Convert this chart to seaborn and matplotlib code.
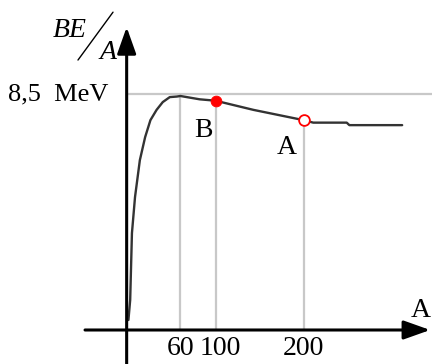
import matplotlib
matplotlib.use("Agg")
import matplotlib.pyplot as plt
import seaborn as sns
import pandas as pd

# ---- data ----
mass_number = [1, 3, 5, 8.5, 14, 20, 26, 33, 40, 48, 56, 60, 82, 100, 143, 200, 211, 249, 252, 312]
be_per_a = [0.36, 1.08, 3.49, 4.79, 6.12, 6.95, 7.56, 7.93, 8.21, 8.39, 8.41, 8.43, 8.31, 8.26, 7.93, 7.56, 7.47, 7.47, 7.38, 7.38]
ref_level = 8.5
ref_label = "8,5  MeV"
tick_values = [60, 100, 200]
tick_labels = ["60", "100", "200"]
point_names = ["B", "A"]
point_x = [100, 200]
point_y = [8.26, 7.56]

df = pd.DataFrame({"A": mass_number, "BE": be_per_a})

sns.set_theme(style="white")
plt.rcParams["font.family"] = ["Liberation Serif", "DejaVu Serif"]
plt.rcParams["text.color"] = "black"

fig = plt.figure(figsize=(4.32, 3.64), dpi=100)
ax = fig.add_axes([0, 0, 1, 1])
ax.set_xlim(-144.9, 345.9)
ax.set_ylim(-1.225, 11.888)
ax.axis("off")

grey = "#c8c8c8"
# guide lines
ax.plot([0, 345.9], [ref_level, ref_level], color=grey, lw=1.6, zorder=1)
ax.plot([tick_values[0], tick_values[0]], [0, ref_level], color=grey, lw=1.6, zorder=1)
for xv, yv in zip(point_x, point_y):
    ax.plot([xv, xv], [0, yv], color=grey, lw=1.6, zorder=1)

# curve
sns.lineplot(data=df, x="A", y="BE", ax=ax, color="#333333", lw=1.7,
             sort=False, estimator=None, zorder=3)

# points
sns.scatterplot(x=[point_x[0]], y=[point_y[0]], ax=ax, color="red", s=60,
                edgecolor="red", zorder=5)
ax.scatter([point_x[1]], [point_y[1]], s=60, facecolor="white",
           edgecolor="red", linewidth=1.3, zorder=5)

# axes arrows
arrow_kw = dict(arrowstyle="-|>,head_length=0.9,head_width=0.32", lw=2.2,
                color="black", shrinkA=0, shrinkB=0, mutation_scale=18)
ax.annotate("", xy=(343.8, 0), xytext=(-48.3, 0), arrowprops=arrow_kw, zorder=6)
ax.annotate("", xy=(-1, 10.91), xytext=(-1, -1.225), arrowprops=arrow_kw, zorder=6)

fs = 20
# tick labels
for tv, tl in zip(tick_values, tick_labels):
    off = 5 if tl == "100" else 0
    ax.text(tv + off, -0.66, tl, ha="center", va="center", fontsize=fs)

# point labels
ax.text(86, 7.2, point_names[0], ha="center", va="center", fontsize=fs)
ax.text(181, 6.59, point_names[1], ha="center", va="center", fontsize=fs)

# y reference label
ax.text(-22, 8.47, ref_label, ha="right", va="center", fontsize=19)

# x axis label
ax.text(344.5, 0.72, "A", ha="right", va="center", fontsize=fs)

# y axis label BE/A
ax.text(-65.5, 10.8, "BE", ha="center", va="center", fontsize=fs, style="italic")
ax.plot([-56.3, -16.5], [9.725, 11.45], color="black", lw=1.0)
ax.text(-22, 10.0, "A", ha="center", va="center", fontsize=fs, style="italic")

fig.savefig("out.png", dpi=100)
